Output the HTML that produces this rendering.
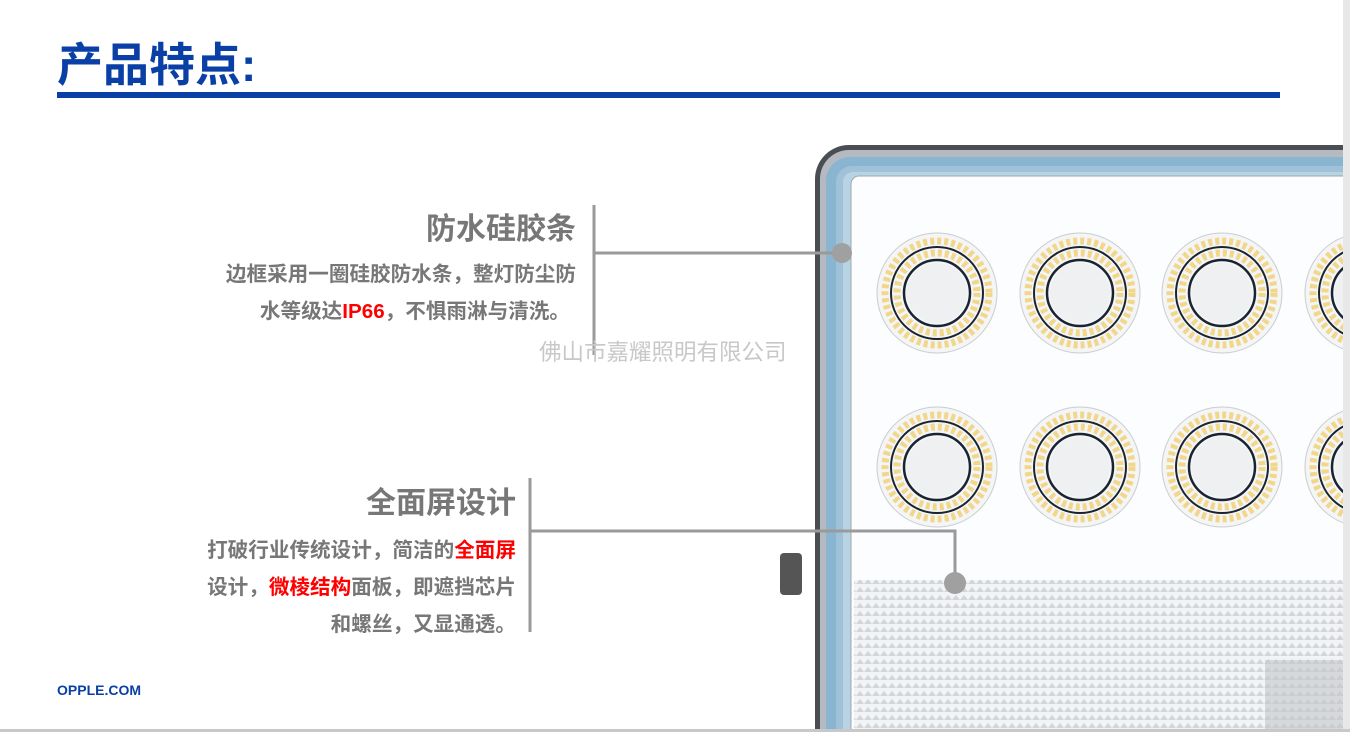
<!DOCTYPE html>
<html style="overflow:hidden"><head><meta charset="utf-8"><style>
html,body{margin:0;width:1350px;height:732px;overflow:hidden}
body{background:#fff;position:relative;font-family:"Liberation Sans","Noto Sans CJK SC",sans-serif}
.a{position:absolute;white-space:nowrap}
.h{font-weight:bold;color:#777;font-size:30px;text-align:right}
.b{font-weight:bold;color:#777;font-size:20.6px;text-align:right}
.r{color:#f00}
</style></head><body>
<svg class="a" style="left:0;top:0" width="1350" height="732">
<defs>
<pattern id="dots" width="8" height="8" patternUnits="userSpaceOnUse"><rect width="8" height="8" fill="#f1f3f5"/><path d="M0 8L4 3L8 8Z" fill="#d2d6da"/></pattern>
<g id="led">
<circle r="60" fill="#f4f5f6" stroke="#ccc" stroke-width="1"/>
<circle r="52" fill="none" stroke="#f2d68a" stroke-width="7" stroke-dasharray="4 3"/>
<circle r="46" fill="none" stroke="#1a2430" stroke-width="2"/>
<circle r="40" fill="none" stroke="#f2d68a" stroke-width="7" stroke-dasharray="4 3"/>
<circle r="33" fill="none" stroke="#1a2430" stroke-width="2.5"/>
<circle r="30" fill="#eef0f2"/>
</g>
</defs>
<rect x="815" y="145" width="560" height="620" rx="34" fill="#4a4d52"/>
<rect x="820" y="150" width="560" height="620" rx="29" fill="#b4bac0"/>
<rect x="826" y="157" width="560" height="620" rx="24" fill="#8ab5d0"/>
<rect x="836" y="166" width="560" height="620" rx="16" fill="#9fc2d8"/>
<rect x="843" y="172" width="560" height="620" rx="10" fill="#b8d4e4"/>
<rect x="851" y="176" width="560" height="620" rx="8" fill="#fbfdfe" stroke="#9aa" stroke-width="1"/>
<rect x="854" y="580" width="500" height="160" fill="url(#dots)"/>
<rect x="1265" y="660" width="85" height="80" fill="#c4c7ca" opacity=".6"/>
<use href="#led" x="937" y="293"/><use href="#led" x="1080" y="293"/><use href="#led" x="1222" y="293"/><use href="#led" x="1365" y="293"/>
<use href="#led" x="937" y="467"/><use href="#led" x="1080" y="467"/><use href="#led" x="1222" y="467"/><use href="#led" x="1365" y="467"/>
<rect x="780" y="553" width="22" height="42" rx="4" fill="#555"/>
<rect x="1343" y="0" width="7" height="732" fill="#e8e8e8"/>
<rect x="0" y="729" width="1350" height="3" fill="#c8c8c8"/>
<rect x="57" y="92" width="1223" height="6" fill="#0a40a6"/>
<g stroke="#9a9a9a" stroke-width="3" fill="none">
<path d="M594 205V355M594 253H842"/>
<path d="M530 478V632M530 531H955V583"/>
</g>
<circle cx="842" cy="253" r="10" fill="#a0a0a0"/>
<circle cx="955" cy="583" r="11" fill="#a0a0a0"/>
</svg>
<div class="a" style="left:57px;top:37px;font-size:46px;font-weight:bold;color:#0a40a6;line-height:56px">产品特点:</div>
<div class="a h" style="right:774px;top:210px;line-height:40px">防水硅胶条</div>
<div class="a b" style="right:774px;top:261px;line-height:28px">边框采用一圈硅胶防水条，整灯防尘防</div>
<div class="a b" style="right:780px;top:298px;line-height:28px">水等级达<span class="r">IP66</span>，不惧雨淋与清洗。</div>
<div class="a h" style="right:834px;top:484px;line-height:40px">全面屏设计</div>
<div class="a b" style="right:834px;top:537px;line-height:28px">打破行业传统设计，简洁的<span class="r">全面屏</span></div>
<div class="a b" style="right:834px;top:574px;line-height:28px">设计，<span class="r">微棱结构</span>面板，即遮挡芯片</div>
<div class="a b" style="right:834px;top:611px;line-height:28px">和螺丝，又显通透。</div>
<div class="a" style="left:539px;top:339px;font-size:22.5px;color:#c8c8c8;line-height:28px">佛山市嘉耀照明有限公司</div>
<div class="a" style="left:57px;top:682px;font-size:14px;font-weight:bold;color:#0a40a6">OPPLE.COM</div>
</body></html>
